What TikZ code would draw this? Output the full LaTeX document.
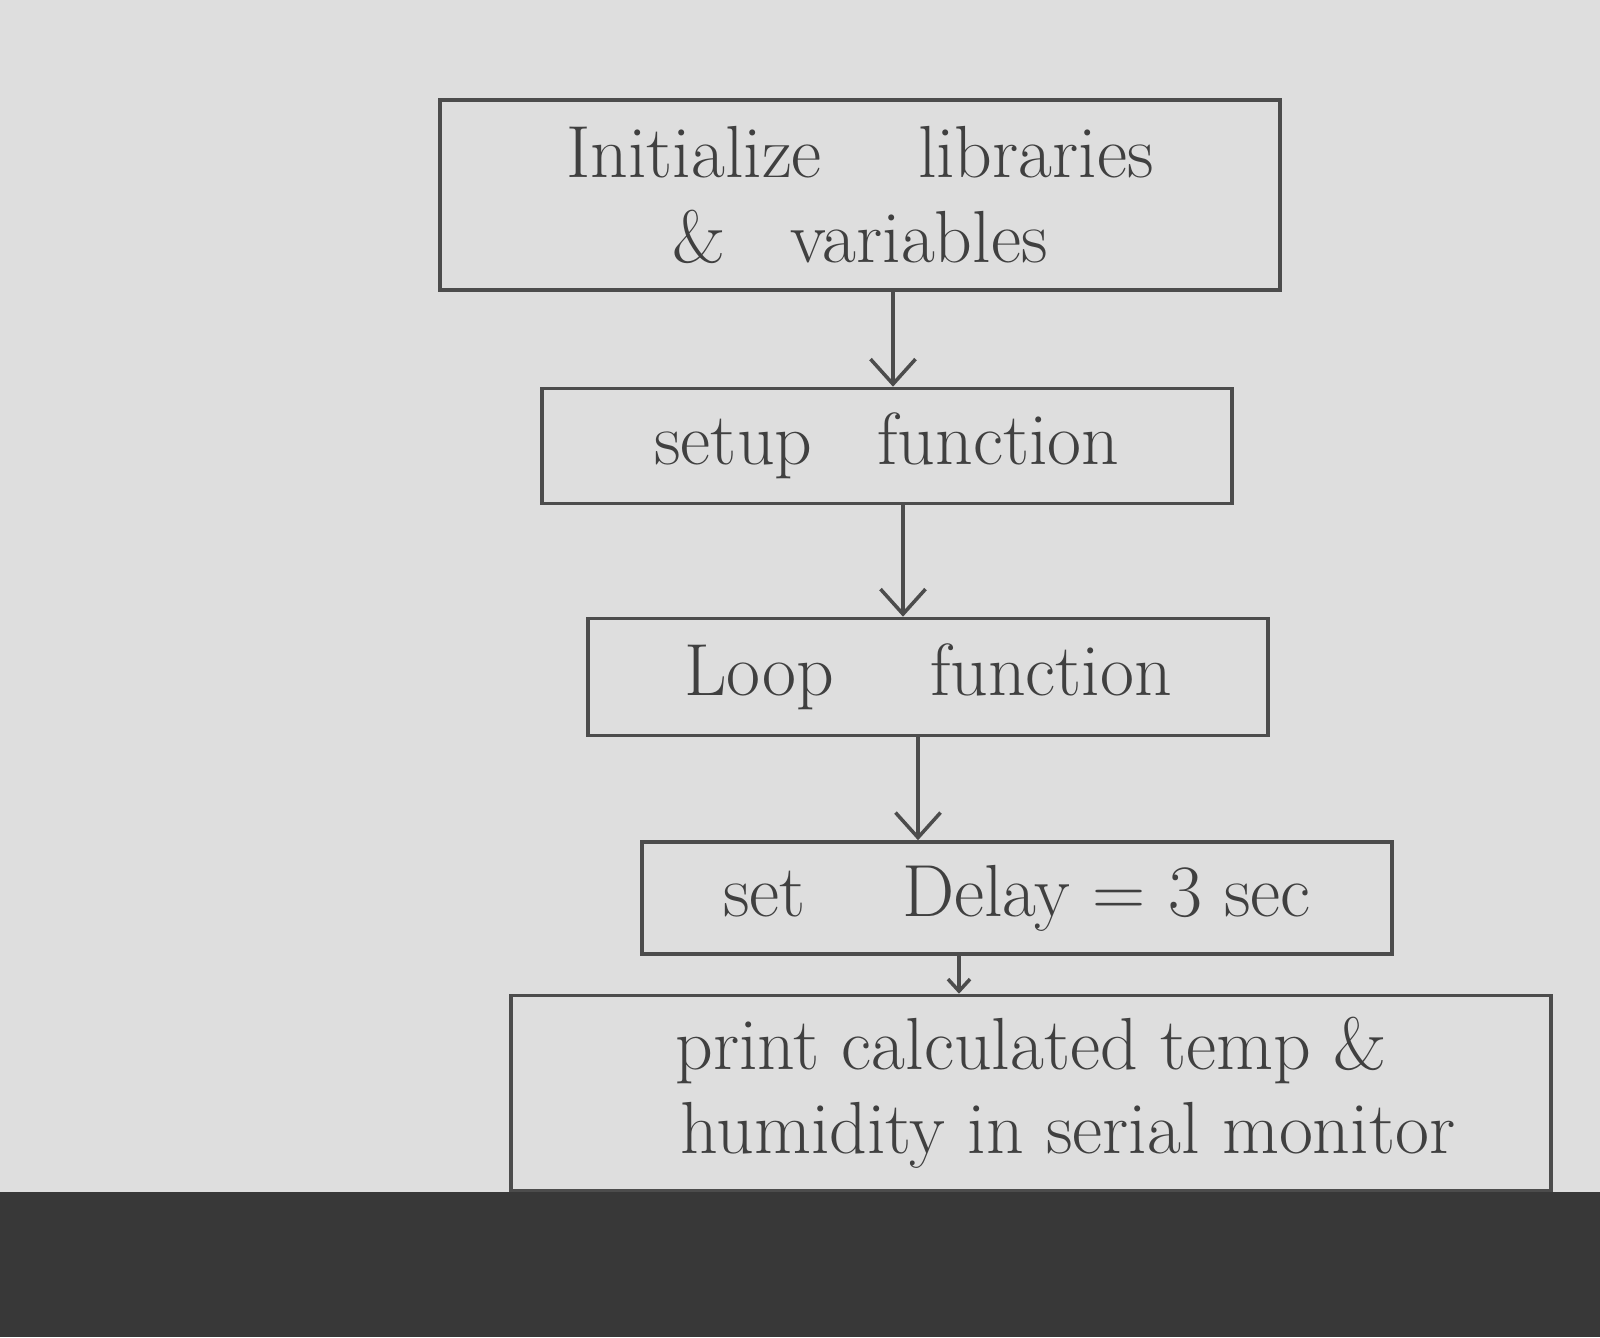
\documentclass[tikz,border=0pt]{standalone}
\usepackage{tikz}
\usetikzlibrary{positioning, arrows.meta}

\tikzset{
	stepbox/.style={draw=black!70, line width=1pt, align=center, inner sep=2pt,
		font=\fontsize{21}{24}\selectfont, text=black!75},
	flow/.style={-{Straight Barb[length=2.5mm, width=4.5mm]}, draw=black!70, line width=1pt}
}

\begin{document}
\begin{tikzpicture}
	\useasboundingbox (0,0) rectangle (16,13.37);
	\fill[black!13] (0,1.45) rectangle (16,13.37);
	\fill[black!78] (0,0) rectangle (16,1.45);

	\node[stepbox, minimum width=8.4cm, minimum height=1.9cm]	(init)	at (8.60,11.42)	{Initialize \quad libraries\\ \& \; variables};
	\node[stepbox, minimum width=6.9cm, minimum height=1.15cm]	(setup)	at (8.87,8.91)	{setup \; function};
	\node[stepbox, minimum width=6.8cm, minimum height=1.17cm]	(loop)	at (9.28,6.60)	{Loop \quad function};
	\node[stepbox, minimum width=7.5cm, minimum height=1.12cm]	(delay)	at (10.17,4.39)	{set \quad Delay = 3 sec};
	\node[stepbox, minimum width=10.4cm, minimum height=1.95cm]	(print)	at (10.31,2.44)	{print calculated temp \&\\ \quad humidity in serial monitor};

	\draw[flow] ([xshift=3.3mm]init.south)	-- ([xshift=3.3mm]init.south |- setup.north);
	\draw[flow] ([xshift=1.6mm]setup.south)	-- ([xshift=1.6mm]setup.south |- loop.north);
	\draw[flow] ([xshift=-1mm]loop.south)	-- ([xshift=-1mm]loop.south |- delay.north);
	\draw[flow, -{Straight Barb[length=1.2mm, width=2.2mm]}] ([xshift=-5.8mm]delay.south) -- ([xshift=-5.8mm]delay.south |- print.north);
\end{tikzpicture}
\end{document}
